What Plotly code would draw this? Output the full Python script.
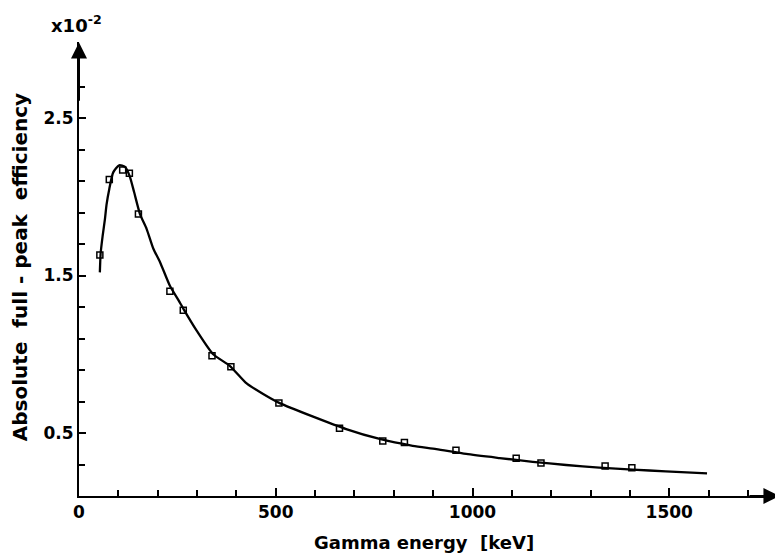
import plotly.graph_objects as go

# measured points (keV, efficiency x10^-2)
pt_energy = [53, 77, 111, 128, 151, 231, 265, 338, 386, 508, 662, 772, 827,
             958, 1111, 1174, 1337, 1405]
pt_eff = [1.63, 2.11, 2.17, 2.15, 1.89, 1.40, 1.28, 0.99, 0.92, 0.69, 0.53,
          0.45, 0.44, 0.39, 0.34, 0.31, 0.29, 0.28]

# fitted curve
fit_energy = [53, 55, 60, 66, 70, 77, 87, 102, 117, 129, 140, 155, 172, 189,
              206, 231, 256, 265, 299, 341, 383, 426, 468, 510, 595, 679, 764,
              848, 908, 984, 1069, 1153, 1238, 1322, 1407, 1491, 1596]
fit_eff = [1.52, 1.64, 1.75, 1.86, 1.95, 2.05, 2.155, 2.20, 2.19, 2.13, 2.03,
           1.89, 1.795, 1.67, 1.585, 1.435, 1.33, 1.29, 1.15, 1.00, 0.927,
           0.815, 0.748, 0.69, 0.604, 0.525, 0.462, 0.419, 0.398, 0.367, 0.341,
           0.317, 0.297, 0.28, 0.267, 0.257, 0.244]

x_ticks = [0, 500, 1000, 1500]
y_ticks = [0.5, 1.5, 2.5]

TICKFONT = dict(family="DejaVu Sans", size=17, color="black", weight="bold")
TITLEFONT = dict(family="DejaVu Sans", size=19, color="black", weight="bold")

fig = go.Figure()
fig.add_trace(go.Scatter(x=fit_energy, y=fit_eff, mode="lines",
                         line=dict(color="black", width=2.3, shape="spline", smoothing=0.6),
                         cliponaxis=False))
fig.add_trace(go.Scatter(x=pt_energy, y=pt_eff, mode="markers",
                         marker=dict(symbol="square-open", size=6, color="black",
                                     line=dict(width=1.5)), cliponaxis=False))

# page body adds 8px offset, so the figure is 8px smaller on each side
fig.update_layout(
    width=775, height=548,
    margin=dict(l=71, r=2, t=34, b=60),
    paper_bgcolor="white", plot_bgcolor="white",
    showlegend=False,
    font=TICKFONT,
)
fig.update_xaxes(range=[0, 1784], showgrid=False, zeroline=False,
                 showline=True, linecolor="black", linewidth=2,
                 tickmode="array", tickvals=x_ticks, ticktext=[str(v) for v in x_ticks],
                 ticks="inside", ticklen=8, tickwidth=2, tickcolor="black",
                 minor=dict(tickmode="array", tickvals=list(range(100, 1800, 100)),
                            ticks="inside", ticklen=6, tickwidth=2, tickcolor="black"),
                 tickfont=TICKFONT)
fig.update_yaxes(range=[0.1, 2.983], showgrid=False, zeroline=False,
                 showline=True, linecolor="black", linewidth=2,
                 tickmode="array", tickvals=y_ticks, ticktext=[str(v) for v in y_ticks],
                 ticks="inside", ticklen=7, tickwidth=2, tickcolor="black",
                 minor=dict(tickmode="array",
                            tickvals=[round(0.3 + 0.2 * k, 1) for k in range(13)],
                            ticks="inside", ticklen=6, tickwidth=2, tickcolor="black"),
                 tickfont=TICKFONT)

# axis arrows
fig.add_annotation(x=0, y=2.98, ax=0, ay=2.6, xref="x", yref="y", axref="x", ayref="y",
                   showarrow=True, arrowhead=2, arrowsize=1.6, arrowwidth=2,
                   arrowcolor="black", text="")
fig.add_annotation(x=1780, y=0.1, ax=1700, ay=0.1, xref="x", yref="y", axref="x", ayref="y",
                   showarrow=True, arrowhead=2, arrowsize=1.6, arrowwidth=2,
                   arrowcolor="black", text="")

fig.add_annotation(x=-0.084, y=0.504, xref="paper", yref="paper", showarrow=False,
                   xanchor="center", yanchor="middle",
                   text="Absolute  full - peak  efficiency", textangle=-90,
                   font=dict(TITLEFONT, size=20))
fig.add_annotation(x=0.491, y=-0.1035, xref="paper", yref="paper", showarrow=False,
                   xanchor="center", yanchor="middle",
                   text="Gamma energy  [keV]", font=dict(TITLEFONT, size=18))
fig.add_annotation(x=-0.003, y=1.04, xref="paper", yref="paper", showarrow=False,
                   xanchor="center", yanchor="middle",
                   text="x10<sup>-2</sup>", font=dict(TITLEFONT, size=18))

fig.write_html("out.html")
